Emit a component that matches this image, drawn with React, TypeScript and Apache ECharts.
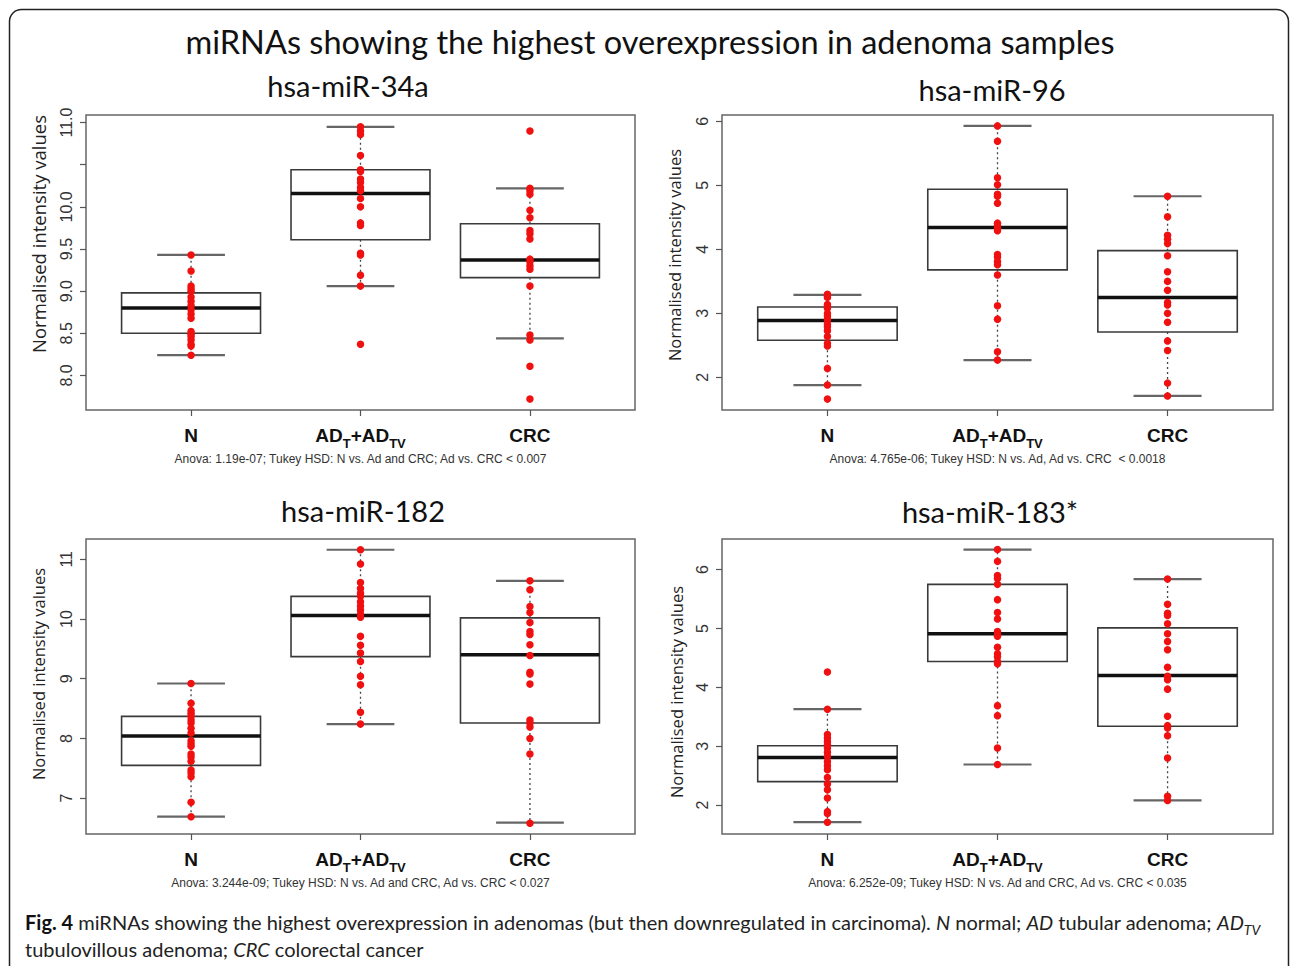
import React, { useEffect, useRef } from 'react';
import * as echarts from 'echarts';

// ---------- texts ----------
const mainTitle = 'miRNAs showing the highest overexpression in adenoma samples';
const panelTitles = ['hsa-miR-34a', 'hsa-miR-96', 'hsa-miR-182', 'hsa-miR-183*'];
const categories = ['N', 'AD_T+AD_TV', 'CRC'];
const yAxisName = 'Normalised intensity values';
const anovaTexts = [
  'Anova: 1.19e-07; Tukey HSD: N vs. Ad and CRC; Ad vs. CRC < 0.007',
  'Anova: 4.765e-06; Tukey HSD: N vs. Ad, Ad vs. CRC  < 0.0018',
  'Anova: 3.244e-09; Tukey HSD: N vs. Ad and CRC, Ad vs. CRC < 0.027',
  'Anova: 6.252e-09; Tukey HSD: N vs. Ad and CRC, Ad vs. CRC < 0.035',
];
const captionLine1 =
  '{b|Fig. 4}{t| miRNAs showing the highest overexpression in adenomas (but then downregulated in carcinoma). }{i|N}{t| normal; }{i|AD}{t| tubular adenoma; }{i|AD}{is|TV}';
const captionLine2 = 'tubulovillous adenoma; {i|CRC} colorectal cancer';

// ---------- axis ranges & ticks ----------
const yRange34a = [7.59, 11.09];
const yRange96 = [1.49, 6.1];
const yRange182 = [6.4, 11.34];
const yRange183 = [1.51, 6.52];
const yTicks34a = [8, 8.5, 9, 9.5, 10, 10.5, 11];
const yLabels34a = [8, 8.5, 9, 9.5, 10, 11];
const yTicks96 = [2, 3, 4, 5, 6];
const yTicks182 = [7, 8, 9, 10, 11];
const yTicks183 = [2, 3, 4, 5, 6];

// ---------- box stats: [lower whisker, Q1, median, Q3, upper whisker] for N, AD, CRC ----------
const box34a = [
  [8.24, 8.5, 8.8, 8.98, 9.43],
  [9.06, 9.61, 10.16, 10.44, 10.95],
  [8.44, 9.16, 9.37, 9.8, 10.22],
];
const box96 = [
  [1.88, 2.58, 2.89, 3.1, 3.29],
  [2.27, 3.68, 4.34, 4.94, 5.93],
  [1.71, 2.71, 3.25, 3.98, 4.83],
];
const box182 = [
  [6.69, 7.55, 8.04, 8.37, 8.92],
  [8.24, 9.37, 10.06, 10.38, 11.16],
  [6.59, 8.26, 9.4, 10.02, 10.64],
];
const box183 = [
  [1.71, 2.4, 2.81, 3.01, 3.63],
  [2.69, 4.44, 4.91, 5.75, 6.34],
  [2.08, 3.34, 4.2, 5.01, 5.84],
];

// ---------- individual samples ----------
const n34a = [9.43, 9.24, 9.06, 9.03, 9.0, 8.93, 8.88, 8.83, 8.78, 8.73, 8.68, 8.52, 8.49, 8.46, 8.42, 8.37, 8.35, 8.24];
const ad34a = [10.95, 10.9, 10.86, 10.61, 10.44, 10.42, 10.33, 10.29, 10.23, 10.19, 10.1, 10.0, 9.81, 9.78, 9.45, 9.43, 9.19, 9.06, 8.37];
const crc34a = [10.9, 10.22, 10.19, 10.15, 9.96, 9.87, 9.72, 9.68, 9.62, 9.38, 9.35, 9.3, 9.26, 9.06, 8.48, 8.42, 8.11, 7.72];

const n96 = [3.3, 3.27, 3.25, 3.14, 3.11, 3.08, 3.0, 2.96, 2.9, 2.83, 2.79, 2.73, 2.64, 2.53, 2.49, 2.14, 1.88, 1.66];
const ad96 = [5.93, 5.69, 5.12, 5.01, 4.86, 4.83, 4.72, 4.41, 4.37, 4.33, 4.29, 3.92, 3.88, 3.81, 3.76, 3.6, 3.12, 2.91, 2.4, 2.27];
const crc96 = [4.83, 4.51, 4.22, 4.16, 4.09, 3.9, 3.65, 3.5, 3.36, 3.17, 3.13, 3.0, 2.86, 2.57, 2.42, 1.91, 1.71];

const n182 = [8.92, 8.59, 8.47, 8.42, 8.37, 8.31, 8.26, 8.17, 8.09, 7.96, 7.91, 7.87, 7.74, 7.69, 7.62, 7.47, 7.42, 7.36, 6.93, 6.69];
const ad182 = [11.16, 10.92, 10.61, 10.51, 10.43, 10.38, 10.29, 10.22, 10.15, 10.08, 10.03, 9.71, 9.56, 9.43, 9.29, 9.04, 8.9, 8.44, 8.24];
const crc182 = [10.64, 10.49, 10.21, 10.11, 9.94, 9.79, 9.74, 9.57, 9.39, 9.11, 9.08, 8.91, 8.31, 8.26, 8.19, 8.0, 7.74, 6.58];

const n183 = [4.26, 3.63, 3.2, 3.14, 3.08, 3.03, 2.97, 2.9, 2.83, 2.74, 2.67, 2.6, 2.47, 2.36, 2.26, 2.12, 1.89, 1.86, 1.71];
const ad183 = [6.34, 6.14, 5.9, 5.85, 5.75, 5.49, 5.27, 5.16, 4.95, 4.91, 4.87, 4.68, 4.57, 4.52, 4.44, 4.4, 3.69, 3.52, 2.97, 2.69];
const crc183 = [5.84, 5.41, 5.26, 5.22, 5.08, 4.91, 4.78, 4.64, 4.34, 4.19, 4.13, 3.97, 3.51, 3.35, 3.31, 3.18, 2.8, 2.15, 2.08];

const panels = [
  { title: panelTitles[0], anova: anovaTexts[0], range: yRange34a, ticks: yTicks34a, labels: yLabels34a, decimals: 1, box: box34a, pts: [n34a, ad34a, crc34a] },
  { title: panelTitles[1], anova: anovaTexts[1], range: yRange96, ticks: yTicks96, labels: yTicks96, decimals: 0, box: box96, pts: [n96, ad96, crc96] },
  { title: panelTitles[2], anova: anovaTexts[2], range: yRange182, ticks: yTicks182, labels: yTicks182, decimals: 0, box: box182, pts: [n182, ad182, crc182] },
  { title: panelTitles[3], anova: anovaTexts[3], range: yRange183, ticks: yTicks183, labels: yTicks183, decimals: 0, box: box183, pts: [n183, ad183, crc183] },
];

const layout = [
  { left: 86, top: 115, width: 549, height: 295, tx: 348, ty: 85, nx: 38, ny: 234, nameSize: 18.5 },
  { left: 722, top: 115, width: 551, height: 295, tx: 992, ty: 89, nx: 674, ny: 255, nameSize: 16.5 },
  { left: 86, top: 539, width: 549, height: 295, tx: 363, ty: 510, nx: 38, ny: 674, nameSize: 16.5 },
  { left: 722, top: 539, width: 551, height: 295, tx: 990, ty: 511, nx: 676, ny: 692, nameSize: 16.5 },
];

const TITLE_FONT = 'Lato, "Open Sans", sans-serif';
const NAME_FONT = '"Open Sans", Lato, sans-serif';
const AXIS_FONT = '"Liberation Sans", Arial, sans-serif';

function catLabel(v: number): string {
  const c = categories[Math.round(v) - 1];
  if (!c) return '';
  if (c.indexOf('_') >= 0) return '{b|AD}{s|T}{b|+AD}{s|TV}';
  return '{b|' + c + '}';
}

function renderBox(params: any, api: any) {
  const x = api.value(0);
  const low = api.value(1);
  const q1 = api.value(2);
  const med = api.value(3);
  const q3 = api.value(4);
  const high = api.value(5);
  const half = 0.41;
  const cap = 0.2;
  const tl = api.coord([x - half, q3]);
  const br = api.coord([x + half, q1]);
  const mL = api.coord([x - half, med]);
  const mR = api.coord([x + half, med]);
  const cH = api.coord([x, high]);
  const cQ3 = api.coord([x, q3]);
  const cQ1 = api.coord([x, q1]);
  const cL = api.coord([x, low]);
  const hL = api.coord([x - cap, high]);
  const hR = api.coord([x + cap, high]);
  const lL = api.coord([x - cap, low]);
  const lR = api.coord([x + cap, low]);
  const whisk = { stroke: '#444', lineWidth: 1.3, lineDash: [2, 3] };
  const capStyle = { stroke: '#666', lineWidth: 2.2 };
  return {
    type: 'group',
    children: [
      { type: 'line', shape: { x1: cQ3[0], y1: cQ3[1], x2: cH[0], y2: cH[1] }, style: whisk },
      { type: 'line', shape: { x1: cQ1[0], y1: cQ1[1], x2: cL[0], y2: cL[1] }, style: whisk },
      { type: 'line', shape: { x1: hL[0], y1: hL[1], x2: hR[0], y2: hR[1] }, style: capStyle },
      { type: 'line', shape: { x1: lL[0], y1: lL[1], x2: lR[0], y2: lR[1] }, style: capStyle },
      {
        type: 'rect',
        shape: { x: tl[0], y: tl[1], width: br[0] - tl[0], height: br[1] - tl[1] },
        style: { fill: '#fff', stroke: '#3a3a3a', lineWidth: 1.6 },
      },
      { type: 'line', shape: { x1: mL[0], y1: mL[1], x2: mR[0], y2: mR[1] }, style: { stroke: '#111', lineWidth: 3.5 } },
    ],
  };
}

function buildOption() {
  const grid = layout.map((l) => ({
    left: l.left,
    top: l.top,
    width: l.width,
    height: l.height,
    show: true,
    borderColor: '#666',
    borderWidth: 1.5,
    backgroundColor: 'transparent',
  }));

  const xAxis = panels.map((p, i) => ({
    gridIndex: i,
    type: 'value',
    min: 0.38,
    max: 3.62,
    axisLine: { show: false },
    splitLine: { show: false },
    axisTick: { show: true, customValues: [1, 2, 3], length: 6, lineStyle: { color: '#555', width: 1.2 } },
    axisLabel: {
      customValues: [1, 2, 3],
      margin: 16,
      formatter: (v: number) => catLabel(v),
      rich: {
        b: { fontSize: 19, fontWeight: 'bold', fontFamily: AXIS_FONT, color: '#111', verticalAlign: 'bottom', padding: [0, 0, 5, 0] },
        s: { fontSize: 13, fontWeight: 'bold', fontFamily: AXIS_FONT, color: '#111', verticalAlign: 'bottom' },
      },
    },
    name: p.anova,
    nameLocation: 'middle',
    nameGap: 43,
    nameTextStyle: { fontSize: 12, fontFamily: AXIS_FONT, color: '#333' },
  }));

  const yAxis = panels.map((p, i) => ({
    gridIndex: i,
    type: 'value',
    min: p.range[0],
    max: p.range[1],
    axisLine: { show: false },
    splitLine: { show: false },
    axisTick: { show: true, customValues: p.ticks, length: 6, lineStyle: { color: '#555', width: 1.2 } },
    axisLabel: {
      customValues: p.labels,
      rotate: 90,
      margin: 12,
      fontSize: 16,
      fontFamily: AXIS_FONT,
      color: '#333',
      formatter: (v: number) => v.toFixed(p.decimals),
    },
  }));

  const series: any[] = [];
  panels.forEach((p, i) => {
    series.push({
      type: 'custom',
      xAxisIndex: i,
      yAxisIndex: i,
      renderItem: renderBox,
      data: p.box.map((b, j) => [j + 1, ...b]),
      encode: { x: 0, y: [1, 2, 3, 4, 5] },
      z: 2,
      silent: true,
    });
    p.pts.forEach((arr, j) => {
      series.push({
        type: 'scatter',
        xAxisIndex: i,
        yAxisIndex: i,
        data: arr.map((v) => [j + 1, v]),
        symbol: 'circle',
        symbolSize: 7.5,
        itemStyle: { color: '#f01010', opacity: 1 },
        z: 3,
        silent: true,
      });
    });
  });

  const centered = { align: 'center', verticalAlign: 'middle', textAlign: 'center', textVerticalAlign: 'middle' };
  const capBase = { fontSize: 20, fontFamily: TITLE_FONT, fill: '#222', color: '#222', verticalAlign: 'bottom', padding: [0, 0, 4, 0] };

  const graphic: any[] = [
    {
      type: 'rect',
      shape: { x: 9.5, y: 9.5, width: 1279, height: 1000, r: 12 },
      style: { fill: 'none', stroke: '#222', lineWidth: 1.5 },
      silent: true,
    },
    {
      type: 'text',
      x: 650,
      y: 41,
      style: { text: mainTitle, fontSize: 32.5, fontFamily: TITLE_FONT, fill: '#111', ...centered },
    },
    ...panels.map((p, i) => ({
      type: 'text',
      x: layout[i].tx,
      y: layout[i].ty,
      style: { text: p.title, fontSize: 29, fontFamily: TITLE_FONT, fill: '#111', ...centered },
    })),
    ...panels.map((p, i) => ({
      type: 'text',
      x: layout[i].nx,
      y: layout[i].ny,
      rotation: Math.PI / 2,
      style: { text: yAxisName, fontSize: layout[i].nameSize, fontFamily: NAME_FONT, fill: '#222', ...centered },
    })),
    {
      type: 'text',
      x: 25,
      y: 924,
      style: {
        text: captionLine1,
        fontSize: 20,
        fontFamily: TITLE_FONT,
        fill: '#222',
        align: 'left',
        verticalAlign: 'middle',
        textAlign: 'left',
        textVerticalAlign: 'middle',
        rich: {
          t: { ...capBase },
          b: { ...capBase, fontWeight: 'bold', fill: '#111', color: '#111' },
          i: { ...capBase, fontStyle: 'italic' },
          is: { fontSize: 14, fontStyle: 'italic', fontFamily: TITLE_FONT, fill: '#222', color: '#222', verticalAlign: 'bottom' },
        },
      },
    },
    {
      type: 'text',
      x: 25,
      y: 949,
      style: {
        text: captionLine2,
        fontSize: 20,
        fontFamily: TITLE_FONT,
        fill: '#222',
        align: 'left',
        verticalAlign: 'middle',
        textAlign: 'left',
        textVerticalAlign: 'middle',
        rich: {
          i: { fontSize: 20, fontStyle: 'italic', fontFamily: TITLE_FONT, fill: '#222', color: '#222' },
        },
      },
    },
  ];

  return {
    animation: false,
    backgroundColor: '#ffffff',
    grid,
    xAxis,
    yAxis,
    series,
    graphic,
  };
}

export default function App() {
  const ref = useRef<HTMLDivElement>(null);
  useEffect(() => {
    if (!ref.current) return;
    const chart = echarts.init(ref.current, undefined, { renderer: 'svg' });
    chart.setOption(buildOption() as any);
    return () => {
      chart.dispose();
    };
  }, []);
  return (
    <div
      ref={ref}
      style={{ position: 'absolute', left: 0, top: 0, width: 1290, height: 966, background: '#fff' }}
    />
  );
}
